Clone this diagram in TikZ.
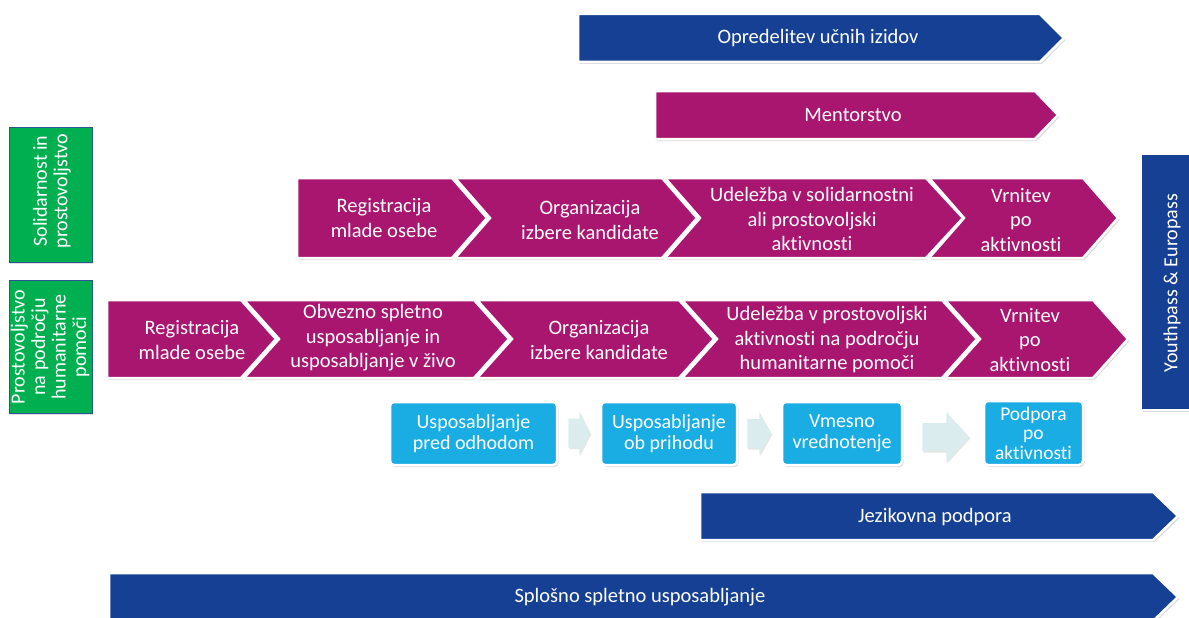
\documentclass[tikz,border=0pt]{standalone}
\usepackage{fontspec}
\setmainfont[Ligatures=NoCommon]{Carlito}
\usetikzlibrary{shadows}

\definecolor{esblue}{RGB}{22,64,148}
\definecolor{esmagenta}{RGB}{168,22,112}
\definecolor{esgreen}{RGB}{0,176,80}
\definecolor{escyan}{RGB}{26,173,228}
\definecolor{espale}{RGB}{218,236,238}
\definecolor{esframe}{RGB}{47,85,151}

\begin{document}
\begin{tikzpicture}[
  x=1pt, y=-1pt,
  every node/.style={text=white, align=center, inner sep=0pt},
  framed/.style={draw=white, line width=2.5pt, line join=miter,
    drop shadow={shadow xshift=1.5pt, shadow yshift=-2pt, opacity=0.3}},
  bluebar/.style={framed, fill=esblue},
  purplebar/.style={framed, fill=esmagenta},
  steptext/.style={font=\fontsize{20.5}{24.5}\selectfont},
  sidebox/.style={fill=esgreen, draw=esframe, line width=1pt,
    drop shadow={shadow xshift=1pt, shadow yshift=-1.5pt, opacity=0.25}},
  sidetext/.style={rotate=90, font=\fontsize{20}{20.5}\selectfont},
  supportbox/.style={framed, fill=escyan, rounded corners=4pt, font=\fontsize{20}{21}\selectfont},
  flowarrow/.style={fill=espale, drop shadow={shadow xshift=1pt, shadow yshift=-1.5pt, opacity=0.2}}
]
\useasboundingbox (0,0) rectangle (1189,618);
\clip (0,0) rectangle (1189,618);

% zgornji puscici
\path[bluebar] (578,14) -- (1040,14) -- (1064,38) -- (1040,62) -- (578,62) -- cycle;
\node[steptext] (izidi) at (818,38) {Opredelitev učnih izidov};
\path[purplebar] (655,91) -- (1035,91) -- (1058,115) -- (1035,139) -- (655,139) -- cycle;
\node[steptext] (mentor) at (853,115) {Mentorstvo};

% oznake vrstic
\path[sidebox] (9,127) rectangle (92,262);
\node[sidetext] (solid) at (52,191) {Solidarnost in\\prostovoljstvo};
\path[sidebox] (9,280) rectangle (92,413);
\node[sidetext] (human) at (50,347) {Prostovoljstvo\\na področju\\humanitarne\\pomoči};

% Youthpass
\path[bluebar] (1141,154) rectangle (1210,410);
\node[sidetext] (pass) at (1172,283) {Youthpass \& Europass};

% vrstica 1
\path[purplebar] (297,178) -- (452,178) -- (487,218) -- (452,258) -- (297,258) -- cycle;
\node[steptext] (solreg) at (384,218) {Registracija\\mlade osebe};
\path[purplebar] (455,178) -- (662,178) -- (697,218) -- (662,258) -- (455,258) -- (490,218) -- cycle;
\node[steptext] (solizb) at (590,220) {Organizacija\\izbere kandidate};
\path[purplebar] (665,178) -- (926,178) -- (963,218) -- (926,258) -- (665,258) -- (700,218) -- cycle;
\node[steptext] (solakt) at (812,219) {Udeležba v solidarnostni\\ali prostovoljski\\aktivnosti};
\path[purplebar] (929,178) -- (1083,178) -- (1118,218) -- (1083,258) -- (929,258) -- (964,218) -- cycle;
\node[steptext] (solvrn) at (1021,220) {Vrnitev\\po\\aktivnosti};

% vrstica 2
\path[purplebar] (107,300) -- (241,300) -- (276,339) -- (241,378) -- (107,378) -- cycle;
\node[steptext] (humreg) at (192,340) {Registracija\\mlade osebe};
\path[purplebar] (244,300) -- (474,300) -- (509,339) -- (474,378) -- (244,378) -- (279,339) -- cycle;
\node[steptext] (humusp) at (373,338) {Obvezno spletno\\usposabljanje in\\usposabljanje v živo};
\path[purplebar] (477,300) -- (679,300) -- (714,339) -- (679,378) -- (477,378) -- (512,339) -- cycle;
\node[steptext] (humizb) at (599,340) {Organizacija\\izbere kandidate};
\path[purplebar] (682,300) -- (942,300) -- (977,339) -- (942,378) -- (682,378) -- (717,339) -- cycle;
\node[steptext] (humakt) at (827,340) {Udeležba v prostovoljski\\aktivnosti na področju\\humanitarne pomoči};
\path[purplebar] (945,300) -- (1093,300) -- (1128,339) -- (1093,378) -- (945,378) -- (980,339) -- cycle;
\node[steptext] (humvrn) at (1030,340) {Vrnitev\\po\\aktivnosti};

% usposabljanja
\node[supportbox, minimum width=167, minimum height=63] (pred) at (473.5,433.5) {Usposabljanje\\pred odhodom};
\node[supportbox, minimum width=136, minimum height=63] (prihod) at (669,433.5) {Usposabljanje\\ob prihodu};
\node[supportbox, minimum width=120, minimum height=63] (vmes) at (842,433.5) {Vmesno\\vrednotenje};
\node[supportbox, minimum width=99, minimum height=64, font=\fontsize{19.5}{19.5}\selectfont] (podpora) at (1033.5,433) {Podpora\\po\\aktivnosti};
\path[flowarrow] ([xshift=10pt]pred.east) ++(0,-15) -- ++(11,0) -- ++(0,-7) -- ++(11,21.5)
  -- ++(-11,21.5) -- ++(0,-7) -- ++(-11,0) -- cycle;
\path[flowarrow] ([xshift=9pt]prihod.east) ++(0,-14.5) -- ++(12,0) -- ++(0,-7) -- ++(12,21.5)
  -- ++(-12,21.5) -- ++(0,-7) -- ++(-12,0) -- cycle;
\path[flowarrow] ([xshift=19pt,yshift=-3.5pt]vmes.east) ++(0,-14) -- ++(24,0) -- ++(0,-11) -- ++(23,25)
  -- ++(-23,25) -- ++(0,-11) -- ++(-24,0) -- cycle;

% spodnji puscici
\path[bluebar] (700,492) -- (1153,492) -- (1178,516) -- (1153,540) -- (700,540) -- cycle;
\node[steptext] (jezik) at (935,517) {Jezikovna podpora};
\path[bluebar] (109,573) -- (1153,573) -- (1178,597) -- (1153,621) -- (109,621) -- cycle;
\node[steptext] (splosno) at (640,597) {Splošno spletno usposabljanje};
\end{tikzpicture}
\end{document}
